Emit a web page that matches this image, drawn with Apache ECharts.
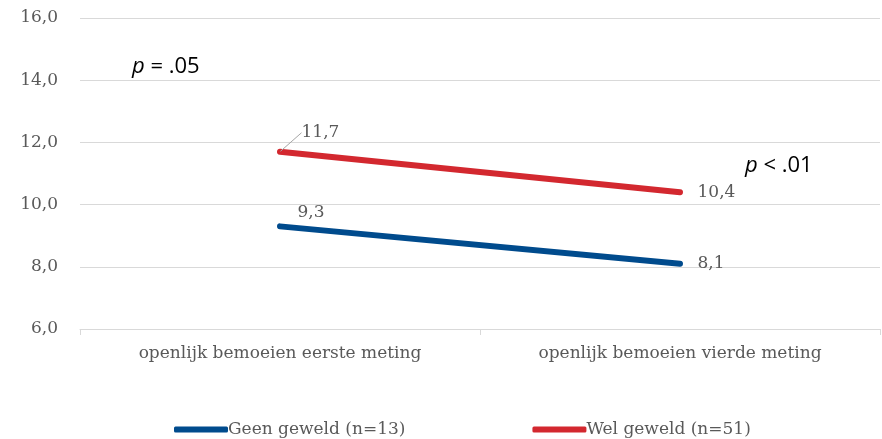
<!DOCTYPE html>
<html>
<head>
<meta charset="utf-8">
<script src="https://cdn.jsdelivr.net/npm/echarts@6/dist/echarts.min.js"></script>
<style>
  html, body { margin: 0; padding: 0; background: #fff; }
  #chart { width: 882px; height: 439px; }
</style>
</head>
<body>
<div id="chart"></div>
<script>
var categories = ['openlijk bemoeien eerste meting', 'openlijk bemoeien vierde meting'];
var geenGeweld = [9.3, 8.1];
var welGeweld = [11.7, 10.4];
var yTicks = [6, 8, 10, 12, 14, 16];

var chart = echarts.init(document.getElementById('chart'));
var serif = '"DejaVu Serif", "Liberation Serif", serif';
var grey = '#595959';

function komma(v) {
  return v.toFixed(1).replace('.', ',');
}

// alleen het eerste rode label is verschoven en krijgt een verbindingslijntje
var welData = welGeweld.map(function (v, i) {
  return { value: v, labelLine: { show: i === 0 } };
});

var option = {
  animation: false,
  backgroundColor: '#ffffff',
  grid: { left: 80, right: 2, top: 18, bottom: 110 },
  legend: {
    bottom: -4,
    left: 169,
    itemWidth: 54,
    itemHeight: 6,
    itemGap: 127,
    icon: 'roundRect',
    textStyle: { fontFamily: serif, fontSize: 17, color: grey, padding: [0, 0, 0, -5] },
    data: ['Geen geweld (n=13)', 'Wel geweld (n=51)']
  },
  xAxis: {
    type: 'category',
    data: categories,
    boundaryGap: true,
    axisLine: { lineStyle: { color: '#d9d9d9', width: 1 } },
    axisTick: { show: true, length: 6, lineStyle: { color: '#d9d9d9' } },
    axisLabel: { margin: 16, fontFamily: serif, fontSize: 17, color: grey }
  },
  yAxis: {
    type: 'value',
    min: yTicks[0],
    max: yTicks[yTicks.length - 1],
    interval: 2,
    axisLine: { show: false },
    axisTick: { show: false },
    axisLabel: { margin: 22, fontFamily: serif, fontSize: 17, color: grey, formatter: komma },
    splitLine: { lineStyle: { color: '#d9d9d9', width: 1 } }
  },
  series: [
    {
      name: 'Geen geweld (n=13)',
      type: 'line',
      data: geenGeweld,
      color: '#004b8d',
      symbol: 'circle',
      symbolSize: 1,
      lineStyle: { width: 6, cap: 'round' },
      label: {
        show: true,
        fontFamily: serif, fontSize: 17, color: grey,
        formatter: function (p) { return komma(p.value); },
        position: 'right', distance: 17
      },
      labelLayout: function (p) {
        if (p.dataIndex === 0) return { dy: -14 };
        return {};
      }
    },
    {
      name: 'Wel geweld (n=51)',
      type: 'line',
      data: welData,
      color: '#d3282f',
      symbol: 'circle',
      symbolSize: 1,
      lineStyle: { width: 6, cap: 'round' },
      label: {
        show: true,
        fontFamily: serif, fontSize: 17, color: grey,
        formatter: function (p) { return komma(p.value); },
        position: 'right', distance: 17
      },
      labelLine: { lineStyle: { color: '#a6a6a6', width: 1 } },
      labelLayout: function (p) {
        if (p.dataIndex === 0) return { dx: 4, dy: -19 };
        return {};
      }
    }
  ],
  graphic: [
    {
      type: 'text', left: 132, top: 56,
      style: {
        text: '{i|p} = .05',
        rich: { i: { fontStyle: 'italic', fontFamily: 'Open Sans, sans-serif', fontSize: 22, fill: '#000' } },
        fontFamily: 'Open Sans, sans-serif', fontSize: 22, fill: '#000'
      }
    },
    {
      type: 'text', left: 745, top: 155,
      style: {
        text: '{i|p} < .01',
        rich: { i: { fontStyle: 'italic', fontFamily: 'Open Sans, sans-serif', fontSize: 22, fill: '#000' } },
        fontFamily: 'Open Sans, sans-serif', fontSize: 22, fill: '#000'
      }
    }
  ]
};

chart.setOption(option);
</script>
</body>
</html>
